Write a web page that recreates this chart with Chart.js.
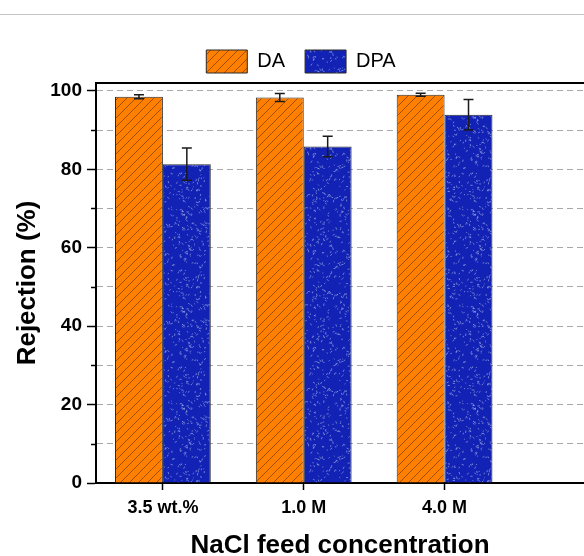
<!DOCTYPE html>
<html>
<head>
<meta charset="utf-8">
<script src="https://cdn.jsdelivr.net/npm/chart.js@4/dist/chart.umd.min.js"></script>
<style>
  html, body { margin: 0; padding: 0; background: #fff; overflow: hidden; }
  #wrap { position: relative; width: 584px; height: 556px; }
  #sep { position: absolute; left: 0; top: 14px; width: 584px; height: 1px; background: #c4c4c4; }
</style>
</head>
<body>
<div id="wrap">
  <div id="sep"></div>
  <canvas id="rejChart" width="584" height="556"></canvas>
</div>
<script>
// data
var categories = ['3.5 wt.%', '1.0 M', '4.0 M'];
var daValues = [98.5, 98.3, 99.0];
var daErrors = [0.5, 1.0, 0.4];
var dpaValues = [81.3, 85.8, 93.9];
var dpaErrors = [4.1, 2.6, 3.9];

var fontFamily = "'Liberation Sans', Arial, sans-serif";

// orange with diagonal hatch
function makeHatch() {
    var c = document.createElement('canvas');
    c.width = 9; c.height = 9;
    var g = c.getContext('2d');
    g.fillStyle = '#ff8000';
    g.fillRect(0, 0, 9, 9);
    g.strokeStyle = '#944800';
    g.lineWidth = 0.9;
    g.beginPath();
    g.moveTo(0, 9); g.lineTo(9, 0);
    g.moveTo(-4.5, 4.5); g.lineTo(4.5, -4.5);
    g.moveTo(4.5, 13.5); g.lineTo(13.5, 4.5);
    g.stroke();
    return g.createPattern(c, 'repeat');
}

// blue with light speckles
function makeSpeckle() {
    var size = 97;
    var c = document.createElement('canvas');
    c.width = size; c.height = size;
    var g = c.getContext('2d');
    g.fillStyle = '#1222b4';
    g.fillRect(0, 0, size, size);
    var seed = 12345;
    function rnd() {
        seed = (seed * 16807) % 2147483647;
        return seed / 2147483647;
    }
    g.strokeStyle = 'rgba(165,178,232,0.8)';
    g.lineWidth = 0.8;
    for (var i = 0; i < 460; i++) {
        var x = rnd() * size, y = rnd() * size;
        var a = rnd() * Math.PI * 2;
        var len = 0.8 + rnd() * 1.8;
        g.beginPath();
        g.moveTo(x, y);
        g.lineTo(x + Math.cos(a) * len, y + Math.sin(a) * len);
        g.stroke();
    }
    return g.createPattern(c, 'repeat');
}

var errorBars = {
    id: 'errorBars',
    afterDatasetsDraw: function(chart) {
        var ctx = chart.ctx;
        var yScale = chart.scales.y;
        var errs = [daErrors, dpaErrors];
        ctx.save();
        ctx.strokeStyle = '#1a1a1a';
        ctx.lineWidth = 1.5;
        chart.data.datasets.forEach(function(ds, di) {
            var meta = chart.getDatasetMeta(di);
            meta.data.forEach(function(bar, i) {
                var v = ds.data[i].y;
                var e = errs[di][i];
                var yt = yScale.getPixelForValue(v + e);
                var yb = yScale.getPixelForValue(v - e);
                ctx.beginPath();
                ctx.moveTo(bar.x, yt); ctx.lineTo(bar.x, yb);
                ctx.moveTo(bar.x - 5, yt); ctx.lineTo(bar.x + 5, yt);
                ctx.moveTo(bar.x - 5, yb); ctx.lineTo(bar.x + 5, yb);
                ctx.stroke();
            });
        });
        ctx.restore();
    }
};

var frame = {
    id: 'frame',
    afterDraw: function(chart) {
        var ctx = chart.ctx;
        var area = chart.chartArea;
        var yScale = chart.scales.y;
        ctx.save();
        ctx.strokeStyle = '#000';
        ctx.lineWidth = 2;
        ctx.beginPath();
        ctx.moveTo(area.left - 1, area.top);
        ctx.lineTo(area.right, area.top);
        ctx.stroke();
        // minor ticks
        ctx.lineWidth = 1.5;
        for (var v = 10; v < 100; v += 20) {
            var y = Math.round(yScale.getPixelForValue(v)) + 0.5;
            ctx.beginPath();
            ctx.moveTo(area.left - 5, y);
            ctx.lineTo(area.left, y);
            ctx.stroke();
        }
        ctx.restore();
    }
};

var ctx = document.getElementById('rejChart');
var myChart = new Chart(ctx, {
    type: 'bar',
    data: {
        datasets: [
        {
            label: 'DA',
            backgroundColor: makeHatch(),
            borderColor: '#2a2a2a',
            borderWidth: 1,
            data: daValues.map(function(v, i) { return {x: i + 1, y: v}; })
        },
        {
            label: 'DPA',
            backgroundColor: makeSpeckle(),
            borderColor: '#2a2a2a',
            borderWidth: 1,
            data: dpaValues.map(function(v, i) { return {x: i + 1, y: v}; })
        }
        ]
    },
    options: {
        responsive: false,
        animation: false,
        categoryPercentage: 0.68,
        barPercentage: 1.0,
        layout: { padding: { top: 30, left: 18, right: 0, bottom: 0 } },
        plugins: {
            legend: {
                position: 'top',
                labels: {
                    boxWidth: 41,
                    boxHeight: 23,
                    padding: 20,
                    color: '#000',
                    font: { family: fontFamily, size: 20 }
                }
            },
            tooltip: { enabled: false }
        },
        scales: {
            x: {
                type: 'linear',
                offset: false,
                min: 0.525,
                max: 3.99,
                afterBuildTicks: function(axis) {
                    axis.ticks = categories.map(function(c, i) { return {value: i + 1}; });
                },
                afterFit: function(axis) { axis.height = 73; },
                ticks: {
                    color: '#000',
                    padding: 7,
                    maxRotation: 0,
                    autoSkip: false,
                    font: { family: fontFamily, size: 18, weight: 'bold' },
                    callback: function(value) { return categories[value - 1]; }
                },
                grid: {
                    offset: false,
                    drawOnChartArea: false,
                    tickLength: 7,
                    tickColor: '#000',
                    tickWidth: 1.5
                },
                border: { color: '#000', width: 2 },
                title: {
                    display: true,
                    text: 'NaCl feed concentration',
                    color: '#000',
                    padding: { top: 10, bottom: -5 },
                    font: { family: fontFamily, size: 26, weight: 'bold' }
                }
            },
            y: {
                min: 0,
                max: 102,
                afterFit: function(axis) { axis.width = 78; },
                ticks: {
                    stepSize: 10,
                    includeBounds: false,
                    color: '#000',
                    padding: 5,
                    font: { family: fontFamily, size: 19, weight: 'bold' },
                    callback: function(value) { return value % 20 === 0 ? value : ''; }
                },
                grid: {
                    color: function(c) { return c.tick && c.tick.value === 0 ? 'rgba(0,0,0,0)' : '#a8a8a8'; },
                    lineWidth: 1,
                    tickLength: 9,
                    tickWidth: 1.5,
                    tickBorderDash: [],
                    tickColor: function(c) { return c.tick && c.tick.value % 20 === 0 ? '#000' : 'rgba(0,0,0,0)'; }
                },
                border: { color: '#000', width: 2, dash: [6, 4] },
                title: {
                    display: true,
                    text: 'Rejection (%)',
                    color: '#000',
                    padding: { top: -6, bottom: 2 },
                    font: { family: fontFamily, size: 26, weight: 'bold' }
                }
            }
        }
    },
    plugins: [errorBars, frame]
});
</script>
</body>
</html>
